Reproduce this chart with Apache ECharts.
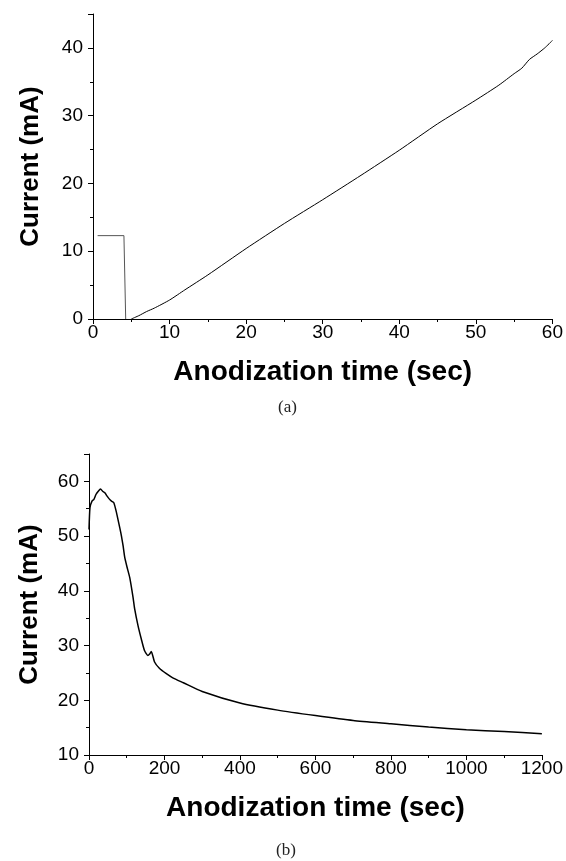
<!DOCTYPE html>
<html>
<head>
<meta charset="utf-8">
<script src="https://cdn.jsdelivr.net/npm/echarts@6/dist/echarts.min.js"></script>
<style>
  html, body { margin: 0; padding: 0; background: #fff; }
  #chart { width: 566px; height: 861px; }
</style>
</head>
<body>
<div id="chart"></div>
<script>
// (a) first 5 s: initial step, then the rising curve
var stepA = [[0.6, 12.3], [4.04, 12.3], [4.27, 0]];
var timeA = [5, 6, 7, 8, 10, 12, 15, 20, 25, 30, 35, 40, 45, 50, 53, 55, 56, 57, 58, 59, 60];
var currentA = [0, 0.5, 1.1, 1.6, 2.8, 4.3, 6.5, 10.4, 14.1, 17.6, 21.2, 24.9, 28.8, 32.3, 34.5, 36.2, 37.0, 38.3, 39.1, 40.0, 41.1];

// (b) 20 min run
var timeB = [0, 2.6, 7.9, 13, 18.4, 24.6, 30.7, 36, 42, 48, 53.5, 59.6, 65.8, 72.8, 81.6, 86, 90.4, 94.7, 100.9, 108, 116.7, 121, 130, 138.6, 147, 156, 160, 165, 173.7, 187, 204, 222, 250, 300, 400, 500, 600, 700, 800, 900, 1000, 1100, 1200];
var currentB = [51.2, 55.2, 56.4, 56.7, 57.6, 58.2, 58.6, 58.2, 57.9, 57.3, 56.8, 56.4, 56.1, 54.3, 51.5, 50.0, 48.2, 46.1, 44.3, 42.4, 38.8, 36.7, 33.6, 31.2, 29.1, 28.2, 28.4, 28.9, 27.0, 25.8, 24.9, 24.1, 23.2, 21.6, 19.5, 18.2, 17.2, 16.3, 15.7, 15.1, 14.6, 14.3, 13.9];

function pairs(xs, ys) {
    var out = [];
    for (var i = 0; i < xs.length; i++) out.push([xs[i], ys[i]]);
    return out;
}

var font = 'Liberation Sans, Arial, sans-serif';

function axisCommon(extra, titleSize, labelMargin) {
    var base = {
        type: 'value',
        nameLocation: 'middle',
        nameTextStyle: { fontFamily: font, fontSize: titleSize, fontWeight: 'bold', color: '#000' },
        axisLine: { show: true, onZero: false, lineStyle: { color: '#000', width: 1 } },
        axisTick: { show: true, inside: false, length: 5, lineStyle: { color: '#000' } },
        minorTick: { show: true, splitNumber: 2, length: 3, lineStyle: { color: '#000' } },
        splitLine: { show: false },
        axisLabel: {
            fontFamily: font, fontSize: 19, color: '#000', margin: labelMargin,
            showMaxLabel: extra.gridIndex !== undefined && extra.isY ? false : null,
            formatter: function (v) { return String(v); }
        }
    };
    delete extra.isY;
    return Object.assign(base, extra);
}

var chart = echarts.init(document.getElementById('chart'), null, { renderer: 'canvas' });

var option = {
    animation: false,
    backgroundColor: '#fff',
    grid: [
        { left: 93, right: 10, top: 14, height: 305 },
        { left: 89, right: 21, top: 454, height: 301 }
    ],
    xAxis: [
        axisCommon({ gridIndex: 0, min: 0, max: 60, interval: 10, name: 'Anodization time (sec)', nameGap: 39 }, 28, 4),
        axisCommon({ gridIndex: 1, min: 0, max: 1200, interval: 200, name: 'Anodization time (sec)', nameGap: 39 }, 28, 4)
    ],
    yAxis: [
        axisCommon({ gridIndex: 0, isY: true, min: 0, max: 45, interval: 10, name: 'Current (mA)', nameGap: 49 }, 26, 10),
        axisCommon({ gridIndex: 1, isY: true, min: 10, max: 65, interval: 10, name: 'Current (mA)', nameGap: 46 }, 26, 10)
    ],
    series: [
        {
            type: 'line', xAxisIndex: 0, yAxisIndex: 0, data: stepA,
            showSymbol: false, lineStyle: { color: '#555', width: 1 }
        },
        {
            type: 'line', xAxisIndex: 0, yAxisIndex: 0, data: pairs(timeA, currentA),
            showSymbol: false, smooth: 0.2, lineStyle: { color: '#000', width: 1 }
        },
        {
            type: 'line', xAxisIndex: 1, yAxisIndex: 1, data: pairs(timeB, currentB),
            showSymbol: false, smooth: 0.2, lineStyle: { color: '#000', width: 1.5 }
        }
    ],
    graphic: [
        { type: 'text', left: 278, top: 399, style: { text: '(a)', font: '17px "Liberation Serif", serif', fill: '#222' } },
        { type: 'text', left: 276, top: 842, style: { text: '(b)', font: '17px "Liberation Serif", serif', fill: '#222' } }
    ]
};

chart.setOption(option);
</script>
</body>
</html>
